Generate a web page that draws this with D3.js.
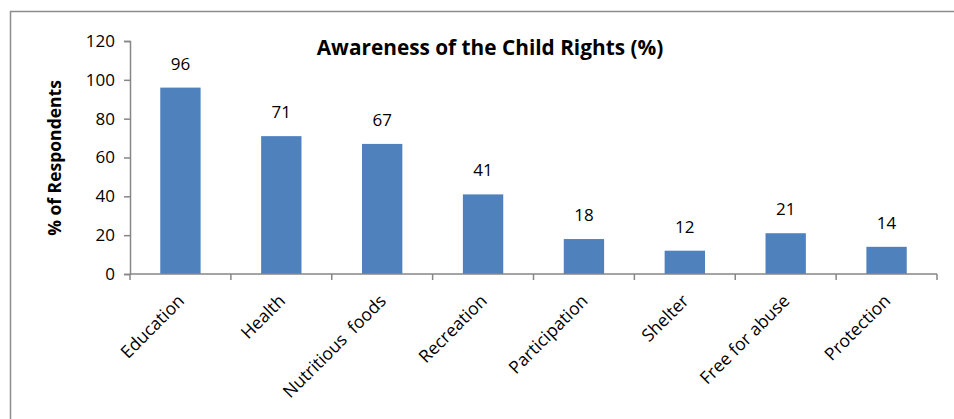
<!DOCTYPE html>
<html><head><meta charset="utf-8">
<script src="https://cdn.jsdelivr.net/npm/d3@7"></script>
<style>body{margin:0;background:#fff}svg{display:block}text{white-space:pre}</style>
</head><body>
<script>
const categories = ["Education","Health","Nutritious  foods","Recreation","Participation","Shelter","Free for abuse","Protection"];
const values = [96,71,67,41,18,12,21,14];
const yTicks = [0,20,40,60,80,100,120];
const titleText = "Awareness of the Child Rights (%)";
const yLabel = "% of Respondents";

const W = 954, H = 419;
const font = "'Open Sans', 'Noto Sans', sans-serif";
const svg = d3.select("body").append("svg").attr("width", W).attr("height", H);
svg.append("rect").attr("x",10.5).attr("y",11.5).attr("width",W).attr("height",H)
  .attr("fill","#fff").attr("stroke","#8c8c8c").attr("stroke-width",1.5);

const pLeft = 130, pRight = 937, pTop = 41, pBottom = 274;
const x = d3.scaleBand().domain(categories).range([pLeft, pRight]).paddingInner(0.6).paddingOuter(0.3);
const y = d3.scaleLinear().domain([0,120]).range([pBottom, pTop]);

// bars
svg.selectAll("rect.bar").data(values).enter().append("rect").attr("class","bar")
  .attr("x",(d,i)=>x(categories[i])).attr("width",x.bandwidth())
  .attr("y",d=>y(d)).attr("height",d=>y(0)-y(d)).attr("fill","#4F81BD");

// y axis
const yAxis = svg.append("g").attr("transform",`translate(${pLeft},0)`)
  .call(d3.axisLeft(y).tickValues(yTicks).tickSize(6).tickPadding(9));
yAxis.select(".domain").attr("stroke","#868686").attr("stroke-width",1.5);
yAxis.selectAll(".tick line").attr("stroke","#868686").attr("stroke-width",1.5);
yAxis.selectAll("text").attr("font-family",font).attr("font-size",17).attr("fill","#000");

// x axis
const step = (pRight-pLeft)/categories.length;
const xg = svg.append("g");
xg.append("line").attr("x1",pLeft).attr("x2",pRight).attr("y1",pBottom).attr("y2",pBottom)
  .attr("stroke","#868686").attr("stroke-width",1.5);
const bounds = d3.range(categories.length+1).map(i=>pLeft+i*step);
xg.selectAll("line.tk").data(bounds).enter().append("line").attr("class","tk")
  .attr("x1",d=>d).attr("x2",d=>d).attr("y1",pBottom).attr("y2",pBottom+6)
  .attr("stroke","#868686").attr("stroke-width",1.5);
xg.selectAll("text").data(categories).enter().append("text")
  .attr("transform",d=>`translate(${x(d)+x.bandwidth()/2+5},${pBottom+28}) rotate(-45)`)
  .attr("text-anchor","end").attr("font-family",font).attr("font-size",17.5).attr("fill","#000")
  .attr("xml:space","preserve")
  .text(d=>d);

// value labels
svg.selectAll("text.val").data(values).enter().append("text").attr("class","val")
  .attr("x",(d,i)=>x(categories[i])+x.bandwidth()/2).attr("y",d=>y(d)-18)
  .attr("text-anchor","middle").attr("font-family",font).attr("font-size",17).attr("fill","#000")
  .text(d=>d);

// title
svg.append("text").attr("x",490).attr("y",55).attr("text-anchor","middle")
  .attr("font-family",font).attr("font-weight","bold").attr("font-size",20.8).attr("fill","#000")
  .text(titleText);

// y label
svg.append("text").attr("transform","translate(61,158) rotate(-90)").attr("text-anchor","middle")
  .attr("font-family",font).attr("font-weight","bold").attr("font-size",17.5).attr("fill","#000")
  .text(yLabel);
</script>
</body></html>
